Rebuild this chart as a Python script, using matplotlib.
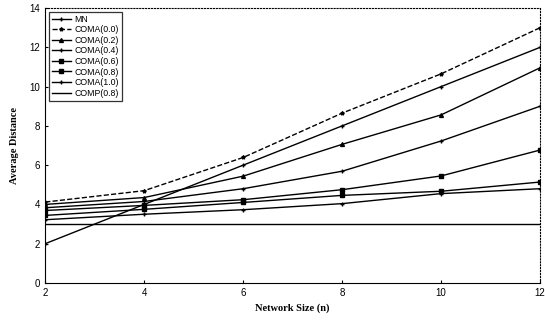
import matplotlib
matplotlib.use("Agg")
import matplotlib.pyplot as plt

# network size n
sizes = [2, 4, 6, 8, 10, 12]

# average distance per scheme
mn = [2.0, 4.0, 6.0, 8.0, 10.0, 12.0]
coma_00 = [4.12, 4.7, 6.39, 8.65, 10.65, 13.0]
coma_02 = [4.0, 4.35, 5.44, 7.06, 8.56, 10.96]
coma_04 = [3.83, 4.15, 4.8, 5.69, 7.23, 9.0]
coma_06 = [3.69, 3.95, 4.24, 4.75, 5.45, 6.77]
coma_08 = [3.44, 3.75, 4.1, 4.46, 4.67, 5.14]
coma_10 = [3.22, 3.5, 3.73, 4.04, 4.55, 4.8]
comp_08 = [3.0, 3.0, 3.0, 3.0, 3.0, 3.0]

labels = ["MN", "COMA(0.0)", "COMA(0.2)", "COMA(0.4)", "COMA(0.6)",
          "COMA(0.8)", "COMA(1.0)", "COMP(0.8)"]
series = [mn, coma_00, coma_02, coma_04, coma_06, coma_08, coma_10, comp_08]
styles = [("-", "+"), ("--", "*"), ("-", "^"), ("-", "+"), ("-", "s"),
          ("-", "s"), ("-", "+"), ("-", None)]

fig = plt.figure(figsize=(5.45, 3.23), dpi=100)
ax = fig.add_axes([0.083, 0.124, 0.908, 0.851])

for vals, lab, (ls, mk) in zip(series, labels, styles):
    ax.plot(sizes, vals, color="black", linestyle=ls, linewidth=1.0,
            marker=mk, markersize=2.8, label=lab)

ax.set_xlim(2, 12)
ax.set_ylim(0, 14)
ax.set_xticks([2, 4, 6, 8, 10, 12])
ax.set_yticks([0, 2, 4, 6, 8, 10, 12, 14])
ax.tick_params(direction="in", length=2, labelsize=7)
for t in ax.get_xticklabels() + ax.get_yticklabels():
    t.set_family("Liberation Sans")
ax.spines["top"].set_linestyle(":")
ax.spines["right"].set_linestyle(":")

ax.set_xlabel("Network Size (n)", family="Liberation Serif",
              fontweight="bold", fontsize=7.5, labelpad=4)
ax.set_ylabel("Average Distance", family="Liberation Serif",
              fontweight="bold", fontsize=7.5, labelpad=8)

leg = ax.legend(loc="upper left", frameon=True, fancybox=False,
                edgecolor="black", handlelength=2.2, labelspacing=0.18,
                borderpad=0.35, handletextpad=0.4, borderaxespad=0.4,
                prop={"family": "Liberation Sans", "size": 6.3})
leg.get_frame().set_linewidth(0.9)

fig.savefig("out.png", dpi=100)
